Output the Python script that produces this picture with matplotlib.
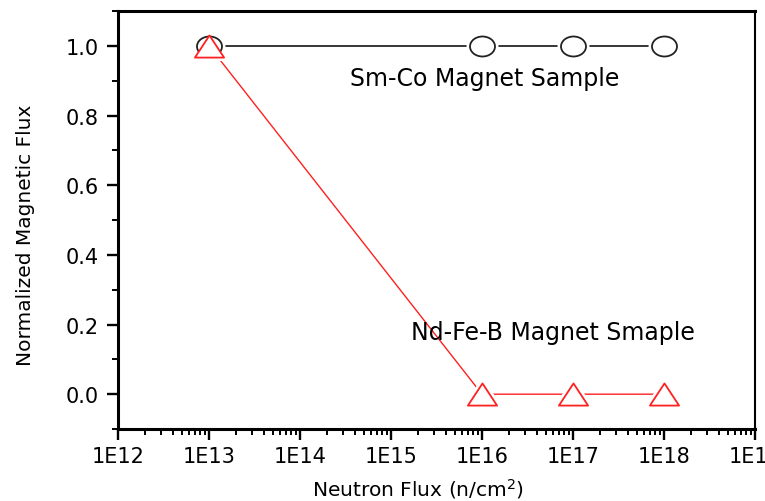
import numpy as np
import matplotlib
matplotlib.use("Agg")
import matplotlib.pyplot as plt
from matplotlib.path import Path
from matplotlib.ticker import FixedLocator, LogLocator, MultipleLocator, NullFormatter

# data
neutron_flux = [1e13, 1e16, 1e17, 1e18]
smco_flux = [1.0, 1.0, 1.0, 1.0]
ndfeb_flux = [1.0, 0.0, 0.0, 0.0]

x_ticks = [1e12, 1e13, 1e14, 1e15, 1e16, 1e17, 1e18, 1e19]
x_tick_labels = ["1E12", "1E13", "1E14", "1E15", "1E16", "1E17", "1E18", "1E19"]
y_ticks = [0.0, 0.2, 0.4, 0.6, 0.8, 1.0]
y_tick_labels = ["0.0", "0.2", "0.4", "0.6", "0.8", "1.0"]

# slightly flattened marker shapes, like the original
circ = Path.unit_circle()
ellipse = Path(circ.vertices * [1.25, 1.0], circ.codes)
tri = Path([(0, 0.76), (-1, -0.76), (1, -0.76), (0, 0.76)],
           [Path.MOVETO, Path.LINETO, Path.LINETO, Path.CLOSEPOLY])

fig = plt.figure(figsize=(7.65, 5.02), dpi=100)
ax = fig.add_axes([0.1542, 0.1434, 0.8327, 0.8327])

ax.plot(neutron_flux, smco_flux, color="black", lw=1.1, zorder=1)
ax.plot(neutron_flux, ndfeb_flux, color="#ff2020", lw=1.0, zorder=1)

# white halo leaves a small gap between line and marker
ax.plot(neutron_flux, smco_flux, ls="none", marker=ellipse, ms=18,
        mfc="white", mec="white", mew=5, zorder=2)
ax.plot(neutron_flux, ndfeb_flux, ls="none", marker=tri, ms=21,
        mfc="white", mec="white", mew=5, zorder=2)
ax.plot(neutron_flux, smco_flux, ls="none", marker=ellipse, ms=18,
        mfc="none", mec="#222222", mew=1.3, zorder=3)
ax.plot(neutron_flux, ndfeb_flux, ls="none", marker=tri, ms=21,
        mfc="white", mec="#ff2020", mew=1.3, zorder=4)

ax.text(10**14.555, 0.908, "Sm-Co Magnet Sample", fontsize=17,
        va="center", ha="left")
ax.text(10**15.216, 0.178, "Nd-Fe-B Magnet Smaple", fontsize=17,
        va="center", ha="left")

ax.set_xscale("log")
ax.set_xlim(1e12, 1e19)
ax.set_ylim(-0.1, 1.1)

ax.xaxis.set_major_locator(FixedLocator(x_ticks))
ax.set_xticklabels(x_tick_labels)
ax.xaxis.set_minor_locator(LogLocator(base=10, subs=np.arange(2, 10)))
ax.xaxis.set_minor_formatter(NullFormatter())
ax.set_yticks(y_ticks)
ax.set_yticklabels(y_tick_labels)
ax.yaxis.set_minor_locator(MultipleLocator(0.1))

ax.tick_params(which="major", direction="out", length=8, width=1.7,
               labelsize=15, top=False, right=False)
ax.tick_params(which="minor", direction="out", length=4, width=1.4,
               top=False, right=False)
ax.tick_params(axis="y", which="major", pad=6)
ax.tick_params(axis="x", which="major", pad=4)

for side in ["left", "bottom", "top"]:
    ax.spines[side].set_linewidth(2.2)
ax.spines["right"].set_linewidth(1.5)

ax.set_xlabel("Neutron Flux (n/cm$^2$)", fontsize=14.5)
ax.set_ylabel("Normalized Magnetic Flux", fontsize=14.5)
ax.xaxis.set_label_coords(0.471, -0.112)
ax.yaxis.set_label_coords(-0.13, 0.466)

fig.savefig("out.png", dpi=100)
